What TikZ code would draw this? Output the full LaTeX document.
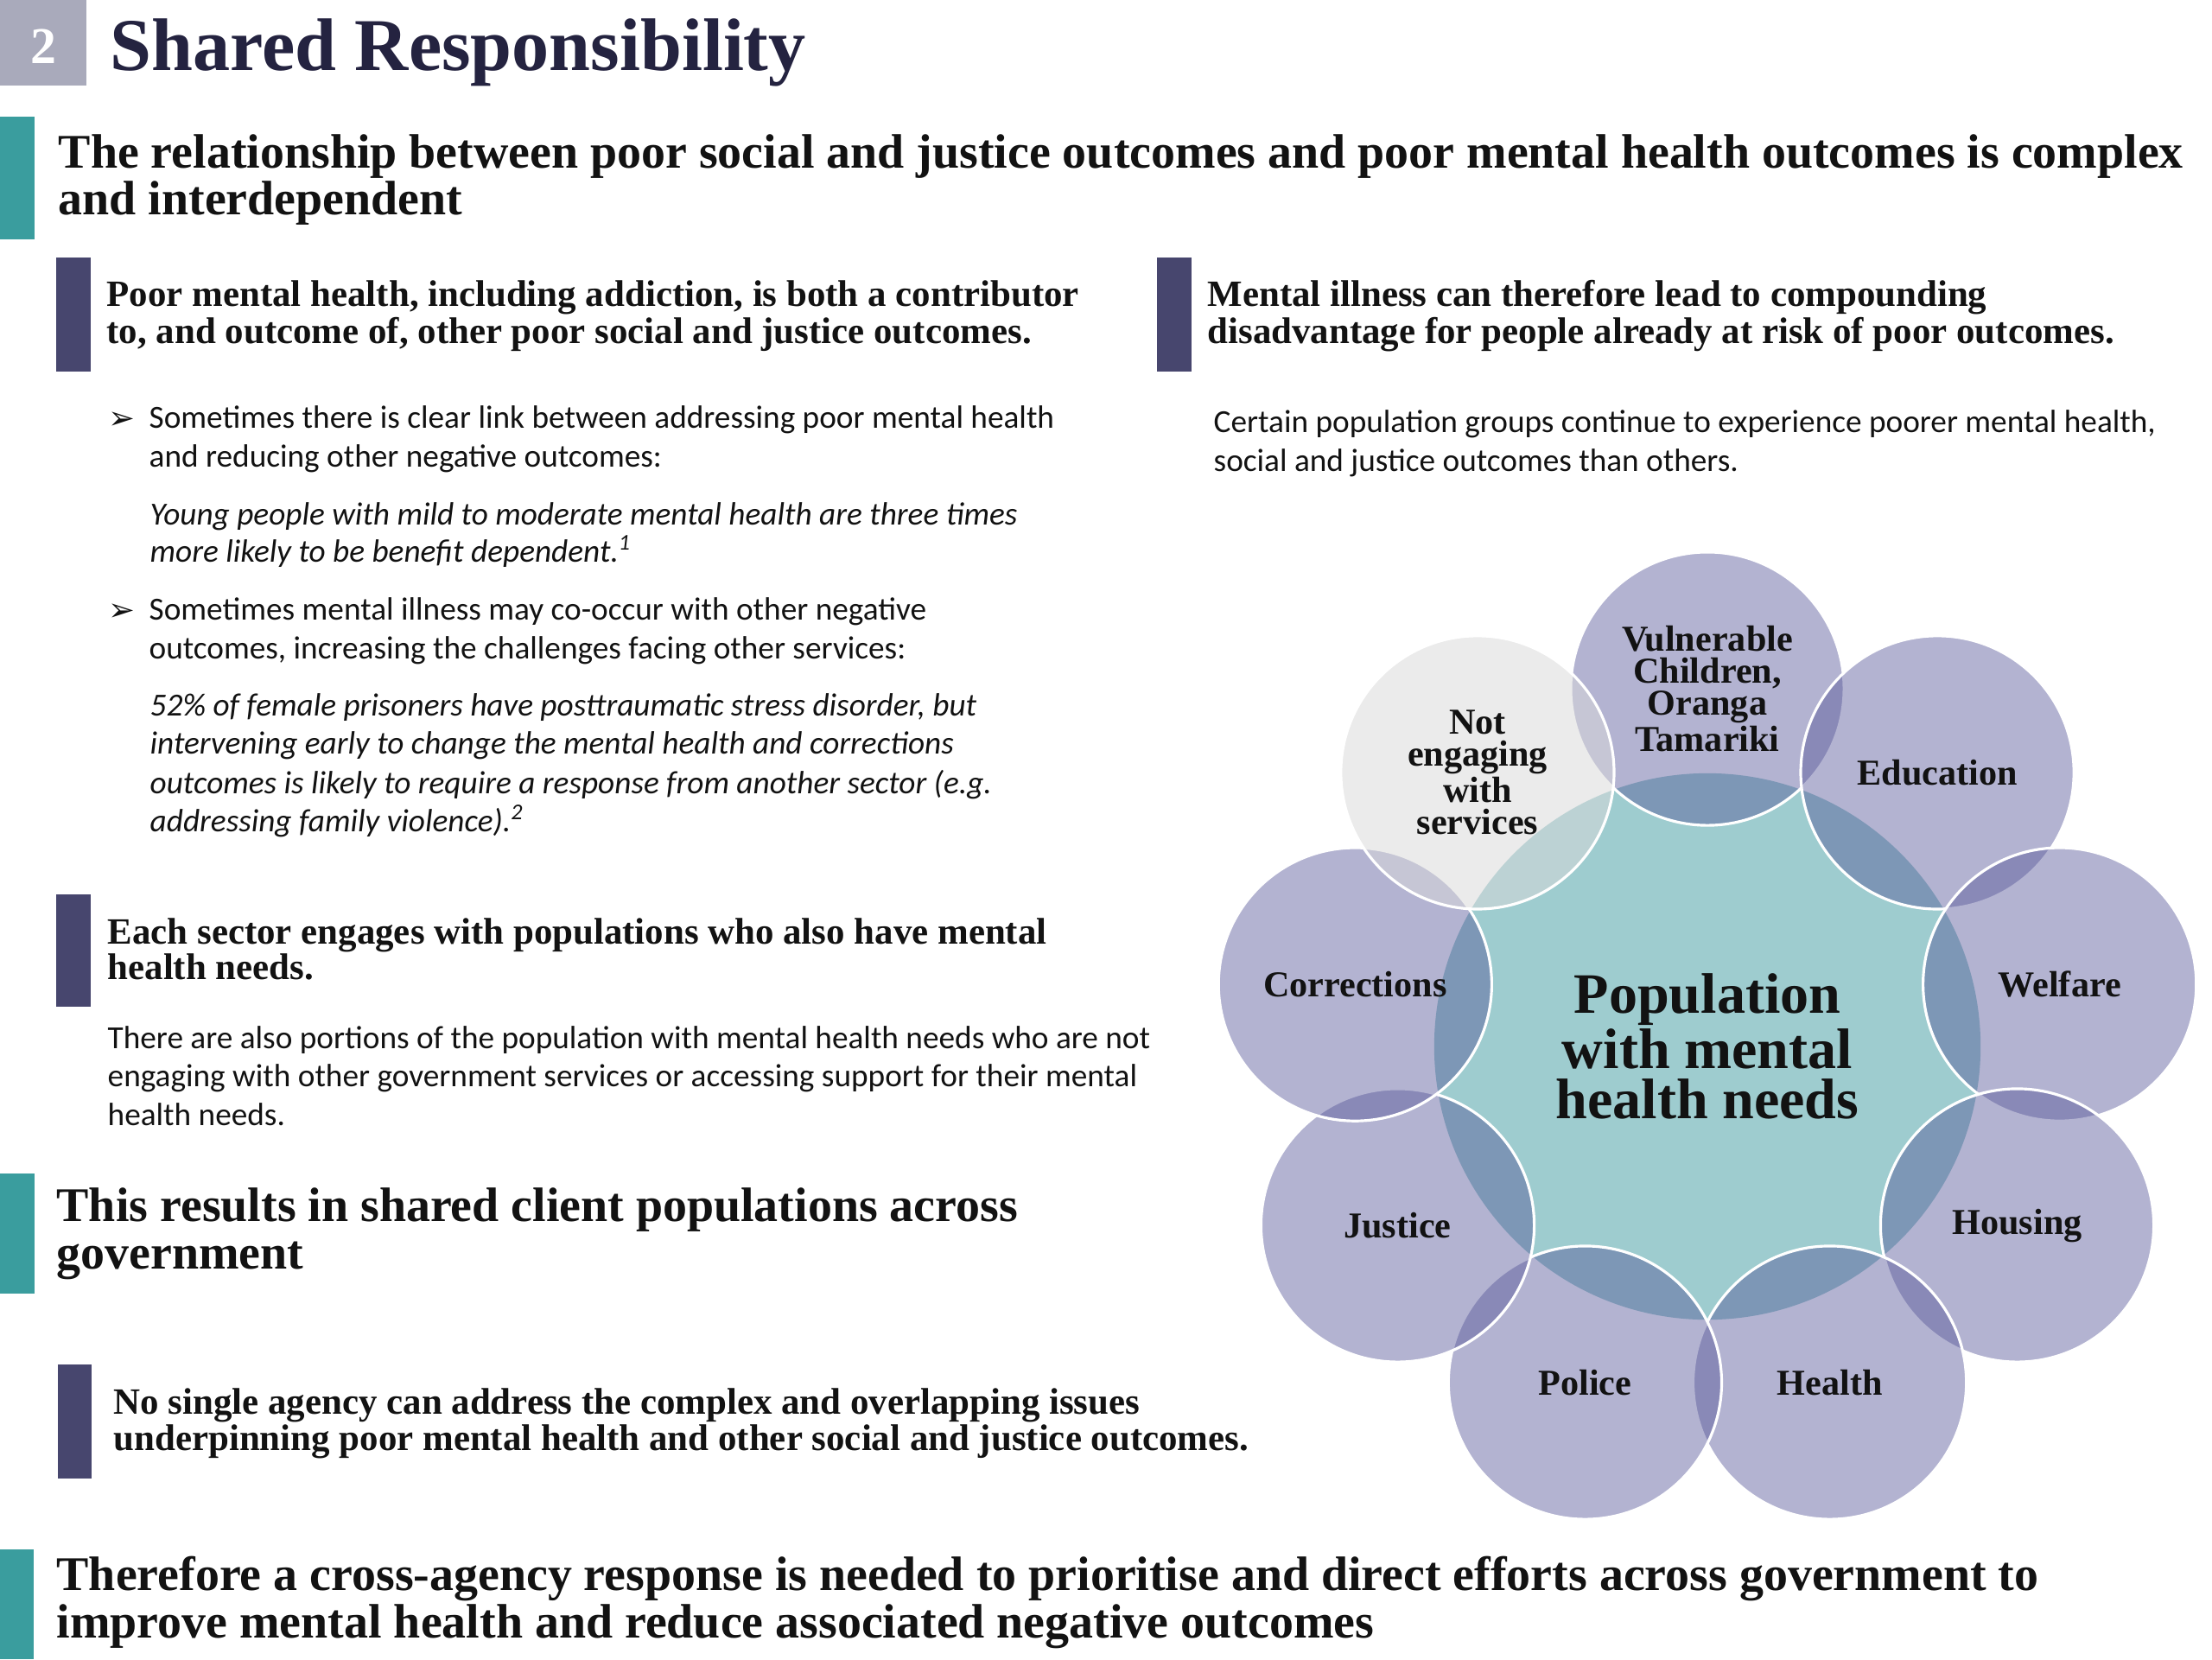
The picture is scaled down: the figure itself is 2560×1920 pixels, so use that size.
\documentclass[tikz,border=0pt]{standalone}
\usepackage{fontspec}
\setmainfont{Liberation Serif}
\newfontfamily\bodyfont{Carlito}
\newfontfamily\symfont{DejaVu Sans}
\definecolor{teal1}{RGB}{58,157,158}
\definecolor{navy1}{RGB}{71,70,110}
\definecolor{gray1}{RGB}{169,170,187}
\definecolor{titlec}{RGB}{36,35,64}
\definecolor{ctr}{RGB}{158,204,207}
\definecolor{outerc}{RGB}{87,87,153}
\definecolor{greyc}{RGB}{217,217,217}
\definecolor{txt}{RGB}{18,18,18}
\begin{document}
\begin{tikzpicture}[x=0.01cm,y=-0.01cm,
  hline/.style={anchor=base west, inner sep=0pt, text=txt, font=\bfseries\fontsize{15.9}{18}\selectfont},
  sline/.style={anchor=base west, inner sep=0pt, text=txt, font=\bfseries\fontsize{12.2}{14}\selectfont},
  bline/.style={anchor=base west, inner sep=0pt, text=txt, font=\bodyfont\fontsize{10.6}{12}\selectfont},
  iline/.style={anchor=base west, inner sep=0pt, text=txt, font=\bodyfont\itshape\fontsize{10.6}{12}\selectfont},
  arrowbul/.style={anchor=base west, inner sep=0pt, text=txt, font=\symfont\fontsize{10.5}{12}\selectfont},
  ctrcircle/.style={circle, inner sep=0pt, minimum size=6.32cm, fill=ctr, draw=none},
  ring/.style={circle, inner sep=0pt, minimum size=3.16cm, fill=outerc, fill opacity=0.45, draw=white, draw opacity=1, line width=0.9pt},
  greyring/.style={ring, fill=greyc, fill opacity=0.52},
  lab/.style={align=center, inner sep=0pt, text=txt, font=\bfseries\fontsize{12}{10.5}\selectfont},
  biglab/.style={align=center, inner sep=0pt, text=txt, font=\bfseries\fontsize{18.8}{16.5}\selectfont}
]
\useasboundingbox (0,0) rectangle (2560,1920);
\fill[white] (0,0) rectangle (2560,1920);

% header
\fill[gray1] (0,0) rectangle (100,99);
\node[anchor=base, inner sep=0pt, text=white, font=\bfseries\fontsize{17}{17}\selectfont] (num) at (50,73) {2};
\node[anchor=base west, inner sep=0pt, text=titlec, font=\bfseries\fontsize{24.5}{28}\selectfont] (title) at (127,81) {Shared Responsibility};

% bars
\fill[teal1] (0,135) rectangle (40,277);
\fill[navy1] (65,298) rectangle (105,430);
\fill[navy1] (1339,298) rectangle (1379,430);
\fill[navy1] (65,1035) rectangle (105,1165);
\fill[teal1] (0,1358) rectangle (40,1497);
\fill[navy1] (67,1579) rectangle (106,1711);
\fill[teal1] (0,1793) rectangle (39,1920);

% heading 1
\node[hline] (h1a) at (67,194) {The relationship between poor social and justice outcomes and poor mental health outcomes is complex};
\node[hline] (h1b) at (67,248) {and interdependent};

% sub 1
\node[sline] (s1a) at (123,354) {Poor mental health, including addiction, is both a contributor};
\node[sline] (s1b) at (123,397) {to, and outcome of, other poor social and justice outcomes.};

% bullet 1
\node[arrowbul] (ar1) at (125,496) {➢};
\node[bline] (b1a) at (172,495) {Sometimes there is clear link between addressing poor mental health};
\node[bline] (b1b) at (172,540) {and reducing other negative outcomes:};
\node[iline] (i1a) at (173,607) {Young people with mild to moderate mental health are three times};
\node[iline] (i1b) at (173,650) {more likely to be benefit dependent.\textsuperscript{1}};

% bullet 2
\node[arrowbul] (ar2) at (125,718) {➢};
\node[bline] (b2a) at (172,717) {Sometimes mental illness may co-occur with other negative};
\node[bline] (b2b) at (172,762) {outcomes, increasing the challenges facing other services:};
\node[iline] (i2a) at (173,828) {52\% of female prisoners have posttraumatic stress disorder, but};
\node[iline] (i2b) at (173,872) {intervening early to change the mental health and corrections};
\node[iline] (i2c) at (173,918) {outcomes is likely to require a response from another sector (e.g.};
\node[iline] (i2d) at (173,962) {addressing family violence).\textsuperscript{2}};

% sub 2 (right)
\node[sline] (s2a) at (1397,354) {Mental illness can therefore lead to compounding};
\node[sline] (s2b) at (1397,397) {disadvantage for people already at risk of poor outcomes.};
\node[bline] (r1a) at (1404,500) {Certain population groups continue to experience poorer mental health,};
\node[bline] (r1b) at (1404,545) {social and justice outcomes than others.};

% sub 3
\node[sline] (s3a) at (124,1092) {Each sector engages with populations who also have mental};
\node[sline] (s3b) at (124,1133) {health needs.};
\node[bline] (b3a) at (124,1213) {There are also portions of the population with mental health needs who are not};
\node[bline] (b3b) at (124,1257) {engaging with other government services or accessing support for their mental};
\node[bline] (b3c) at (124,1302) {health needs.};

% heading 2
\node[hline] (h2a) at (65,1413) {This results in shared client populations across};
\node[hline] (h2b) at (65,1468) {government};

% sub 4
\node[sline] (s4a) at (131,1636) {No single agency can address the complex and overlapping issues};
\node[sline] (s4b) at (131,1678) {underpinning poor mental health and other social and justice outcomes.};

% heading 3
\node[hline] (h3a) at (65,1840) {Therefore a cross-agency response is needed to prioritise and direct efforts across government to};
\node[hline] (h3b) at (65,1895) {improve mental health and reduce associated negative outcomes};

% circle diagram
\node[ctrcircle] (pop) at (1976,1211) {};
\node[ring] (c1) at (1976,797) {};
\node[ring] (c2) at (2242.1,893.9) {};
\node[ring] (c3) at (2383.7,1139.1) {};
\node[ring] (c4) at (2334.5,1418) {};
\node[ring] (c5) at (2117.6,1600) {};
\node[ring] (c6) at (1834.4,1600) {};
\node[ring] (c7) at (1617.5,1418) {};
\node[ring] (c8) at (1568.3,1139.1) {};
\node[greyring] (c9) at (1709.9,893.9) {};

\node[biglab] (poplab) at (pop.center) {Population\\with mental\\health needs};
\node[lab] (l1) at (c1.center) {Vulnerable\\Children,\\Oranga\\Tamariki};
\node[lab] (l2) at (c2.center) {Education};
\node[lab] (l3) at (c3.center) {Welfare};
\node[lab] (l4) at (c4.center) {Housing};
\node[lab] (l5) at (c5.center) {Health};
\node[lab] (l6) at (c6.center) {Police};
\node[lab] (l7) at (c7.center) {Justice};
\node[lab] (l8) at (c8.center) {Corrections};
\node[lab] (l9) at (c9.center) {Not\\engaging\\with\\services};
\end{tikzpicture}
\end{document}
